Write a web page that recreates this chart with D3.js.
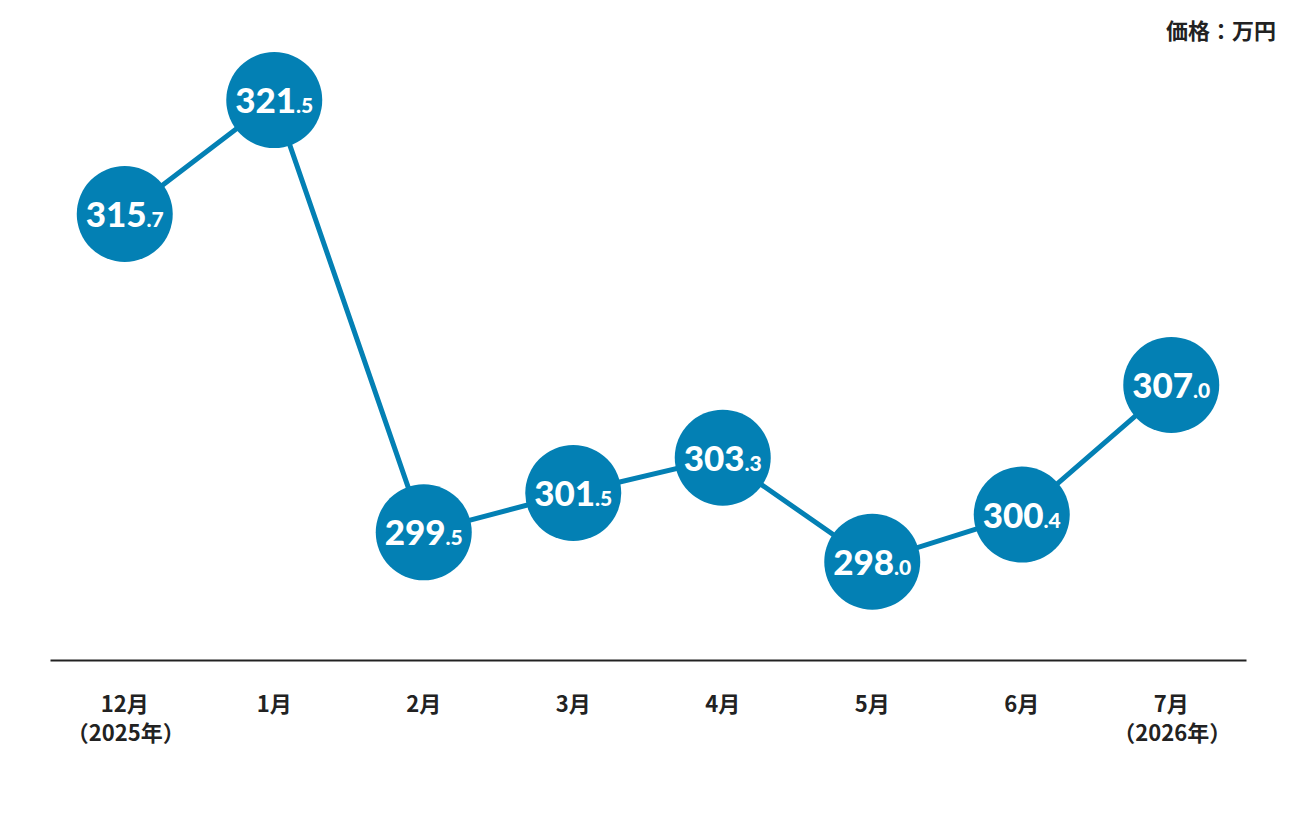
<!DOCTYPE html>
<html><head><meta charset="utf-8">
<script src="https://cdn.jsdelivr.net/npm/d3@7"></script>
<style>
html,body{margin:0;padding:0;background:#fff;}
svg{display:block;}
</style></head>
<body>
<svg id="chart" width="1296" height="816"></svg>
<script>
const months = ["12月","1月","2月","3月","4月","5月","6月","7月"];
const years = ["（2025年）","","","","","","","（2026年）"];
const prices = [315.7, 321.5, 299.5, 301.5, 303.3, 298.0, 300.4, 307.0];
const unitLabel = "価格：万円";

const svg = d3.select("#chart");
const color = "#0380b4";
const x = d3.scaleBand().domain(months).range([50, 1246]);
const y = d3.scaleLinear().domain([293, 325]).range([660, 31.3]);
const cx = d => x(d) + x.bandwidth() / 2;

const data = months.map((m, i) => ({m, v: prices[i], yr: years[i]}));

// axis baseline
const axis = d3.axisBottom(x).tickSize(0).tickFormat("");
const ag = svg.append("g").attr("transform", "translate(0,660)").call(axis);
ag.select(".domain").attr("stroke", "#222").attr("stroke-width", 2);

// line
svg.append("path").datum(data)
  .attr("fill", "none").attr("stroke", color).attr("stroke-width", 5)
  .attr("d", d3.line().x(d => cx(d.m)).y(d => y(d.v)));

// circles
const g = svg.selectAll("g.pt").data(data).enter().append("g").attr("class","pt")
  .attr("transform", d => `translate(${cx(d.m)},${y(d.v)})`);
g.append("circle").attr("r", 48).attr("fill", color);
const t = g.append("text").attr("text-anchor", "middle").attr("y", 13)
  .attr("fill", "#fff").attr("font-family", "Lato, 'Open Sans', sans-serif").attr("font-weight", 900);
t.append("tspan").attr("font-size", 35).text(d => Math.floor(d.v));
t.append("tspan").attr("font-size", 21).text(d => "." + Math.round((d.v - Math.floor(d.v)) * 10));

// month labels
const lab = svg.selectAll("text.lab").data(data).enter().append("text").attr("class","lab")
  .attr("text-anchor", "middle").attr("fill", "#222")
  .attr("font-family", "'Noto Sans CJK JP', sans-serif").attr("font-weight", 700).attr("font-size", 22);
lab.append("tspan").attr("x", d => cx(d.m)).attr("y", 712).text(d => d.m);
lab.filter(d => d.yr).append("tspan").attr("x", d => cx(d.m) + 1).attr("y", 741).text(d => d.yr);

svg.append("text").attr("x", 1276).attr("y", 39).attr("text-anchor", "end")
  .attr("fill", "#222").attr("font-family", "'Noto Sans CJK JP', sans-serif")
  .attr("font-weight", 700).attr("font-size", 22).text(unitLabel);
</script>
</body></html>
